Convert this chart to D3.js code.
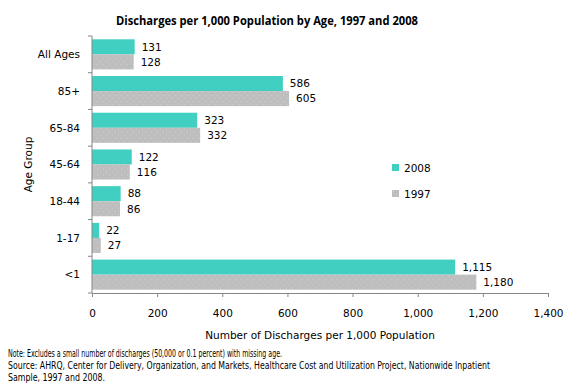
<!DOCTYPE html>
<html>
<head>
<meta charset="utf-8">
<script src="https://cdn.jsdelivr.net/npm/d3@7"></script>
<style>
  body { margin: 0; background: #fff; }
  svg { display: block; }
</style>
</head>
<body>
<div id="chart"></div>
<script>
// Data
var ageGroups = ["All Ages", "85+", "65-84", "45-64", "18-44", "1-17", "<1"];
var years = ["2008", "1997"];
var values2008 = [131, 586, 323, 122, 88, 22, 1115];
var values1997 = [128, 605, 332, 116, 86, 27, 1180];
var xTicks = [0, 200, 400, 600, 800, 1000, 1200, 1400];

var width = 577,
    height = 391,
    margin = { top: 36, right: 29, bottom: 98, left: 92 };

var svg = d3.select("#chart")
    .append("svg")
    .attr("width", width)
    .attr("height", height);

// dotted pattern for the 1997 bars
var defs = svg.append("defs");
var pat = defs.append("pattern")
    .attr("id", "dots")
    .attr("width", 6)
    .attr("height", 6)
    .attr("patternUnits", "userSpaceOnUse");
pat.append("rect").attr("width", 6).attr("height", 6).attr("fill", "#bebebe");
pat.append("rect").attr("x", 1).attr("y", 1).attr("width", 1).attr("height", 1).attr("fill", "#d2d2d2");
pat.append("rect").attr("x", 4).attr("y", 4).attr("width", 1).attr("height", 1).attr("fill", "#cdcdcd");

var color = { "2008": "#40cfc0", "1997": "url(#dots)" };

var data = ageGroups.map(function(g, i) {
    return { group: g, "2008": values2008[i], "1997": values1997[i] };
});

var x = d3.scaleLinear()
    .domain([0, 1400])
    .range([margin.left, width - margin.right]);

var y = d3.scaleBand()
    .domain(ageGroups)
    .range([margin.top, height - margin.bottom])
    .paddingInner(0.18)
    .paddingOuter(0.09);

var yInner = d3.scaleBand()
    .domain(years)
    .range([0, y.bandwidth()]);

var font = "Verdana, 'DejaVu Sans', sans-serif";

// Bars
var groups = svg.append("g")
    .selectAll("g")
    .data(data)
    .enter()
    .append("g")
    .attr("transform", d => "translate(0," + y(d.group) + ")");

groups.selectAll("rect")
    .data(d => years.map(k => ({ key: k, value: d[k] })))
    .enter()
    .append("rect")
    .attr("x", x(0))
    .attr("y", d => yInner(d.key))
    .attr("width", d => x(d.value) - x(0))
    .attr("height", yInner.bandwidth())
    .attr("fill", d => color[d.key]);

groups.selectAll("text")
    .data(d => years.map(k => ({ key: k, value: d[k] })))
    .enter()
    .append("text")
    .attr("x", d => x(d.value) + 7)
    .attr("y", d => yInner(d.key) + yInner.bandwidth() / 2)
    .attr("dy", "0.36em")
    .style("font-family", font)
    .style("font-size", "10.5px")
    .style("fill", "#000")
    .text(d => d3.format(",")(d.value));

// X axis
var xAxis = svg.append("g")
    .attr("transform", "translate(0," + (height - margin.bottom) + ")")
    .call(d3.axisBottom(x).tickValues(xTicks).tickFormat(d3.format(",")).tickSize(4).tickPadding(13));
xAxis.select(".domain").attr("stroke", "#868686");
xAxis.selectAll(".tick line").attr("stroke", "#868686");
xAxis.selectAll("text")
    .style("font-family", font)
    .style("font-size", "10.5px")
    .attr("fill", "#000");

// Y axis: line with ticks between categories
var yAxis = svg.append("g");
yAxis.append("line")
    .attr("x1", x(0)).attr("x2", x(0))
    .attr("y1", y.range()[0]).attr("y2", y.range()[1])
    .attr("stroke", "#868686");
yAxis.selectAll(".sep")
    .data(d3.range(ageGroups.length + 1))
    .enter()
    .append("line")
    .attr("x1", x(0) - 4).attr("x2", x(0))
    .attr("y1", i => y.range()[0] + i * y.step())
    .attr("y2", i => y.range()[0] + i * y.step())
    .attr("stroke", "#868686");
yAxis.selectAll(".lbl")
    .data(ageGroups)
    .enter()
    .append("text")
    .attr("x", x(0) - 12)
    .attr("y", d => y(d) + y.bandwidth() / 2)
    .attr("dy", "0.36em")
    .attr("text-anchor", "end")
    .style("font-family", font)
    .style("font-size", "10.5px")
    .text(d => d);

// Axis titles
svg.append("text")
    .attr("x", (x(0) + x(1400)) / 2)
    .attr("y", 339)
    .attr("text-anchor", "middle")
    .style("font-family", font)
    .style("font-size", "10.5px")
    .text("Number of Discharges per 1,000 Population");

svg.append("text")
    .attr("transform", "translate(32," + ((y.range()[0] + y.range()[1]) / 2) + ")rotate(-90)")
    .attr("text-anchor", "middle")
    .style("font-family", font)
    .style("font-size", "10.5px")
    .text("Age Group");

// Legend
var legend = svg.append("g")
    .selectAll("g")
    .data(years)
    .enter()
    .append("g")
    .attr("transform", (d, i) => "translate(392," + (164 + i * 26) + ")");
legend.append("rect")
    .attr("width", 7)
    .attr("height", 7)
    .attr("fill", d => color[d]);
legend.append("text")
    .attr("x", 12)
    .attr("y", 4)
    .attr("dy", "0.36em")
    .style("font-family", font)
    .style("font-size", "10.5px")
    .text(d => d);

// Title
svg.append("text")
    .attr("x", 267)
    .attr("y", 25)
    .attr("text-anchor", "middle")
    .attr("textLength", 302)
    .attr("lengthAdjust", "spacingAndGlyphs")
    .style("font-family", "'Open Sans', 'Liberation Sans', sans-serif")
    .style("font-weight", "bold")
    .style("font-size", "13px")
    .text("Discharges per 1,000  Population by Age, 1997 and 2008");

// Notes
var notes = [
    { t: "Note: Excludes a small number of discharges (50,000 or 0.1 percent) with missing age.", w: 274 },
    { t: "Source:  AHRQ, Center for Delivery, Organization, and Markets, Healthcare Cost and Utilization Project, Nationwide Inpatient", w: 482 },
    { t: "Sample, 1997 and 2008.", w: 97 }
];
svg.append("g")
    .selectAll("text")
    .data(notes)
    .enter()
    .append("text")
    .attr("x", 8)
    .attr("y", (d, i) => 357 + i * 12)
    .attr("textLength", d => d.w)
    .attr("lengthAdjust", "spacingAndGlyphs")
    .style("font-family", "'DejaVu Sans Condensed', 'Open Sans', sans-serif")
    .style("font-size", "10px")
    .text(d => d.t);
</script>
</body>
</html>
